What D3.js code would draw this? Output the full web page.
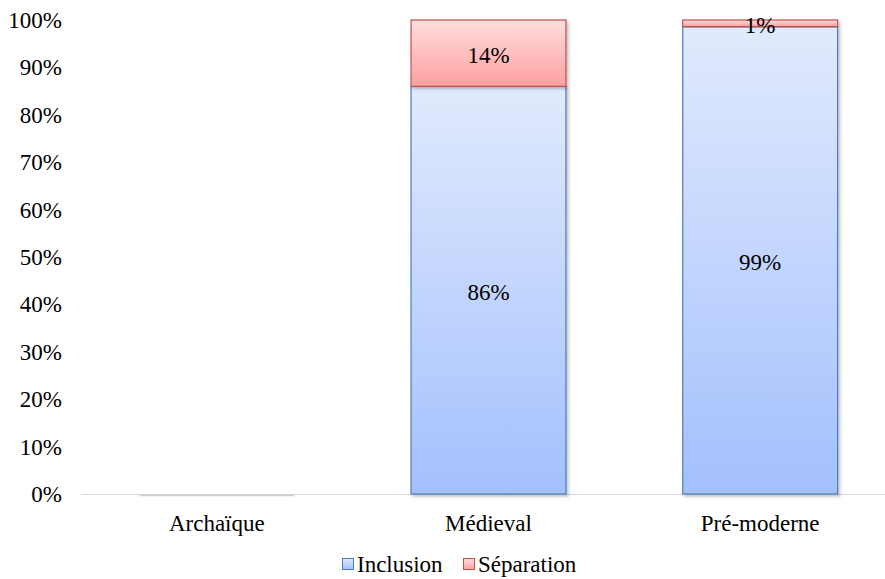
<!DOCTYPE html>
<html>
<head>
<meta charset="utf-8">
<script src="https://cdn.jsdelivr.net/npm/d3@7"></script>
<style>
  body { margin: 0; background: #fff; }
  svg text { font-family: "Liberation Serif", "Times New Roman", "DejaVu Serif", serif; fill: #000; }
</style>
</head>
<body>
<svg id="chart" width="885" height="579"></svg>
<script>
// data
var periods = ["Archaïque", "Médieval", "Pré-moderne"];
var inclusion = [0, 86, 98.6];
var separation = [0, 14, 1.4];
var seriesNames = ["Inclusion", "Séparation"];
var yTicks = [0, 10, 20, 30, 40, 50, 60, 70, 80, 90, 100];

var fontSize = "23px";

var margin = {top: 20, right: -11, bottom: 85, left: 81},
    width = 885 - margin.left - margin.right,
    height = 579 - margin.top - margin.bottom;

var svg = d3.select("#chart");
var defs = svg.append("defs");

// gradients like the office-style fill
function grad(id, top, bottom) {
  var g = defs.append("linearGradient").attr("id", id)
      .attr("x1", 0).attr("y1", 0).attr("x2", 0).attr("y2", 1);
  g.append("stop").attr("offset", "0%").attr("stop-color", top);
  g.append("stop").attr("offset", "100%").attr("stop-color", bottom);
}
grad("gInc", "#e1eafd", "#a3c0fd");
grad("gSep", "#ffdede", "#ff9f9f");

var f = defs.append("filter").attr("id", "shadow")
    .attr("x", "-10%").attr("y", "-10%").attr("width", "130%").attr("height", "130%");
f.append("feDropShadow").attr("dx", 2).attr("dy", 2).attr("stdDeviation", 1.5)
    .attr("flood-color", "#000").attr("flood-opacity", 0.25);

var g = svg.append("g")
    .attr("transform", "translate(" + margin.left + "," + margin.top + ")");

var x = d3.scaleBand().domain(periods).range([0, width]).paddingInner(0.43).paddingOuter(0.215);
var y = d3.scaleLinear().domain([0, 100]).range([height, 0]);

var data = periods.map(function(p, i) {
  return {period: p, Inclusion: inclusion[i], "Séparation": separation[i]};
});
var stacked = d3.stack().keys(seriesNames)(data);
var fills = {"Inclusion": "url(#gInc)", "Séparation": "url(#gSep)"};
var strokes = {"Inclusion": "#4a7ebb", "Séparation": "#c0504d"};

// y axis labels (no line)
g.selectAll(".ytick")
    .data(yTicks)
  .enter().append("text")
    .attr("class", "ytick")
    .attr("x", -19)
    .attr("y", function(d) { return y(d); })
    .attr("dy", "0.35em")
    .attr("text-anchor", "end")
    .style("font-size", fontSize)
    .text(function(d) { return d + "%"; });

// baseline
g.append("line")
    .attr("x1", 0).attr("x2", 885)
    .attr("y1", y(0) + 0.5).attr("y2", y(0) + 0.5)
    .attr("stroke", "#d9d9d9").attr("stroke-width", 1);

// bars
stacked.forEach(function(s) {
  g.selectAll(".bar-" + s.index)
      .data(s)
    .enter().append("rect")
      .attr("x", function(d) { return x(d.data.period); })
      .attr("width", x.bandwidth())
      .attr("y", function(d) { return y(d[1]); })
      .attr("height", function(d) { return y(d[0]) - y(d[1]); })
      .attr("fill", fills[s.key])
      .attr("stroke", strokes[s.key])
      .attr("stroke-width", 1.2)
      .attr("filter", "url(#shadow)")
      .style("display", function(d) { return d[1] - d[0] > 0 ? null : "none"; });
});

// faint shadow line for the empty category
g.append("line")
    .attr("x1", x(periods[0])).attr("x2", x(periods[0]) + x.bandwidth())
    .attr("y1", y(0) + 1.5).attr("y2", y(0) + 1.5)
    .attr("stroke", "#cfcfcf").attr("stroke-width", 1.5);

// value labels
stacked.forEach(function(s) {
  g.selectAll(".lab-" + s.index)
      .data(s.filter(function(d) { return d[1] - d[0] > 0; }))
    .enter().append("text")
      .attr("x", function(d) { return x(d.data.period) + x.bandwidth() / 2; })
      .attr("y", function(d) { return (y(d[0]) + y(d[1])) / 2 + 2; })
      .attr("dy", "0.35em")
      .attr("text-anchor", "middle")
      .style("font-size", fontSize)
      .text(function(d) { return Math.round(d[1] - d[0]) + "%"; });
});

// x labels
g.selectAll(".xlab")
    .data(periods)
  .enter().append("text")
    .attr("x", function(d) { return x(d) + x.bandwidth() / 2; })
    .attr("y", height + 29)
    .attr("dy", "0.35em")
    .attr("text-anchor", "middle")
    .style("font-size", fontSize)
    .text(function(d) { return d; });

// legend
var legend = svg.append("g").attr("transform", "translate(342,564)");
var lx = [0, 121];
seriesNames.forEach(function(n, i) {
  var item = legend.append("g").attr("transform", "translate(" + lx[i] + ",0)");
  item.append("rect")
      .attr("x", 0.5).attr("y", -5.5).attr("width", 11).attr("height", 11)
      .attr("fill", fills[n]).attr("stroke", strokes[n]).attr("stroke-width", 1);
  item.append("text")
      .attr("x", 15).attr("y", 0).attr("dy", "0.35em")
      .style("font-size", fontSize)
      .text(n);
});
</script>
</body>
</html>
